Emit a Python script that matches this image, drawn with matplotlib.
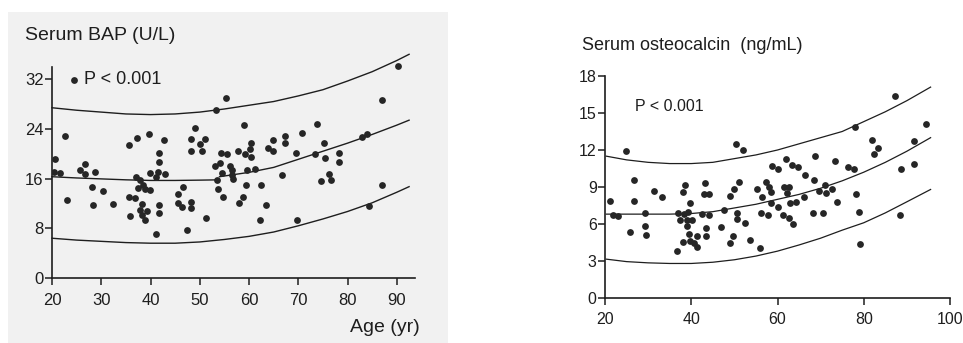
import matplotlib
matplotlib.use("Agg")
import matplotlib.pyplot as plt
from matplotlib.patches import Rectangle

plt.rcParams['font.family'] = ['Liberation Sans', 'DejaVu Sans']

# left panel: serum BAP vs age
bap_age = [24.4, 20.7, 20.5, 21.7, 22.6, 23.0, 25.6, 26.6, 26.8, 28.7, 28.2, 28.3,
           30.4, 32.3, 35.6, 37.3, 39.7, 42.8, 41.7, 41.7, 39.9, 41.5, 42.9, 41.1,
           37.0, 37.8, 38.4, 37.5, 38.8, 39.9, 35.6, 36.8, 38.2, 37.8, 39.2, 38.2,
           35.8, 38.8, 41.7, 41.7, 41.1, 55.4, 53.3, 49.1, 59.0, 48.3, 51.0, 50.0,
           48.2, 50.4, 54.4, 55.6, 57.7, 60.4, 60.2, 59.2, 60.4, 64.9, 63.8, 64.9,
           67.3, 67.3, 53.1, 54.1, 56.1, 56.5, 54.6, 56.6, 56.8, 59.5, 61.2, 66.7,
           53.6, 53.7, 54.8, 59.4, 62.4, 46.6, 45.6, 45.6, 46.3, 48.2, 48.2, 58.8,
           57.9, 63.4, 51.2, 62.2, 47.5, 90.2, 87.1, 73.9, 70.7, 82.9, 84.0, 75.3,
           69.5, 73.4, 75.4, 78.3, 78.3, 76.3, 74.7, 76.6, 86.9, 84.4, 69.8]
bap_val = [31.9, 19.2, 17.0, 16.9, 22.9, 12.6, 17.4, 18.4, 16.7, 17.1, 14.7, 11.8,
           14.0, 11.9, 21.4, 22.5, 23.2, 22.2, 20.1, 18.7, 16.9, 17.0, 16.7, 16.2,
           16.2, 15.7, 14.9, 14.5, 14.3, 14.2, 13.1, 12.9, 11.9, 11.0, 10.8, 10.1,
           9.9, 9.3, 11.7, 10.4, 7.1, 28.9, 27.0, 24.2, 24.7, 22.4, 22.3, 21.5,
           20.4, 20.4, 20.1, 19.9, 20.5, 21.7, 20.8, 19.9, 19.5, 22.2, 21.0, 20.5,
           22.9, 21.8, 18.1, 18.5, 18.1, 17.4, 16.9, 16.6, 15.9, 17.4, 17.5, 16.6,
           15.7, 14.3, 13.0, 14.9, 15.0, 14.6, 13.5, 12.0, 11.4, 12.2, 11.3, 13.0,
           12.0, 11.7, 9.6, 9.3, 7.8, 34.1, 28.6, 24.8, 23.3, 22.7, 23.2, 21.7,
           20.1, 20.0, 19.3, 20.1, 18.6, 16.7, 15.6, 15.7, 15.0, 11.6, 9.4]

bap_curve_age = [20, 25, 30, 35, 40, 45, 50, 55, 60, 65, 70, 75, 80, 85, 90, 92.5]
bap_upper = [27.4, 27.0, 26.7, 26.4, 26.3, 26.4, 26.7, 27.2, 27.8, 28.4, 29.3,
             30.3, 31.7, 33.2, 35.0, 36.0]
bap_lower = [6.4, 6.1, 5.9, 5.7, 5.6, 5.6, 5.8, 6.2, 6.7, 7.4, 8.4, 9.5, 10.7,
             12.1, 13.8, 14.7]
# the middle line is drawn in two pieces, broken near 54 yr
bap_mid1_age = [20, 25, 30, 35, 40, 45, 50, 54]
bap_mid1 = [16.3, 16.1, 15.95, 15.8, 15.7, 15.7, 15.75, 15.8]
bap_mid2_age = [54, 60, 65, 70, 75, 80, 85, 90, 92.5]
bap_mid2 = [16.3, 17.0, 17.8, 19.1, 20.4, 21.7, 23.1, 24.6, 25.4]

# right panel: serum osteocalcin vs age
ocn_age = [24.9, 21.2, 21.9, 23.1, 26.8, 26.8, 25.8, 29.3, 29.3, 29.4, 31.3, 33.2,
           36.8, 38.1, 38.5, 38.0, 39.7, 36.9, 38.3, 39.2, 37.3, 39.0, 40.2, 39.0,
           39.4, 39.8, 40.6, 41.4, 41.4, 43.3, 44.1, 42.9, 42.5, 44.1, 43.5, 43.5,
           46.9, 47.6, 48.9, 49.6, 49.1, 49.9, 51.1, 50.3, 52.0, 50.5, 50.5, 52.5,
           53.6, 55.9, 55.3, 56.5, 57.4, 58.0, 58.4, 56.1, 57.7, 58.4, 58.8, 60.0,
           60.2, 61.2, 61.9, 63.3, 64.7, 61.6, 62.7, 62.1, 62.9, 64.3, 62.7, 63.7,
           66.2, 66.4, 68.5, 68.8, 68.2, 70.5, 69.6, 71.1, 71.3, 72.7, 73.4, 73.9,
           76.3, 77.7, 77.9, 78.3, 78.9, 79.1, 81.9, 83.2, 82.4, 87.3, 88.7, 88.3,
           91.6, 91.6, 94.4]
ocn_val = [11.9, 7.9, 6.75, 6.65, 9.6, 7.9, 5.35, 6.9, 5.8, 5.1, 8.7, 8.2,
           3.8, 4.55, 9.2, 8.6, 7.7, 6.9, 6.8, 7.0, 6.3, 6.3, 6.3, 5.8,
           5.2, 4.6, 4.5, 5.05, 4.1, 9.3, 8.4, 8.4, 6.8, 6.7, 5.7, 5.0,
           5.75, 7.15, 4.5, 5.0, 8.3, 8.8, 9.4, 12.5, 12.0, 6.9, 6.4, 6.1,
           4.7, 4.05, 8.8, 8.2, 9.4, 9.0, 8.6, 6.9, 6.7, 7.7, 10.7, 10.5,
           7.4, 6.7, 11.3, 10.8, 10.6, 9.0, 9.0, 8.55, 7.7, 7.75, 6.5, 6.0,
           8.2, 10.0, 9.6, 11.5, 6.9, 6.9, 8.7, 9.2, 8.55, 8.8, 11.1, 7.8,
           10.6, 10.5, 13.9, 8.4, 7.0, 4.4, 12.8, 12.2, 11.7, 16.4, 10.5, 6.7,
           12.7, 10.85, 14.1]

ocn_curve_age = [20.3, 25, 30, 35, 40, 45, 50, 55, 60, 65, 70, 75, 80, 85, 90, 95.5]
ocn_upper = [11.5, 11.2, 11.0, 10.9, 10.9, 11.0, 11.3, 11.6, 12.0, 12.5, 13.0,
             13.5, 14.3, 15.1, 16.0, 17.1]
ocn_mid = [6.8, 6.8, 6.8, 6.8, 6.85, 7.0, 7.3, 7.6, 8.0, 8.4, 8.9, 9.5, 10.2,
           11.0, 11.9, 13.0]
ocn_lower = [3.15, 2.95, 2.85, 2.8, 2.8, 2.9, 3.1, 3.4, 3.8, 4.3, 4.85, 5.5,
             6.1, 6.9, 7.8, 8.8]

W, H = 963, 343
fig = plt.figure(figsize=(W / 100, H / 100), dpi=100)
fig.patch.set_facecolor('white')
# scanned page tint behind the left figure
fig.patches.append(Rectangle((8 / W, 0), 440 / W, 1 - 12 / H,
                             transform=fig.transFigure, facecolor='#f1f1f1',
                             edgecolor='none', zorder=-5))

ink = '#1e1e1e'
dot = dict(s=24, color='#262626', linewidths=0, zorder=3)


def px_axes(x0, x1, y_bottom, y_top):
    return fig.add_axes([x0 / W, 1 - y_bottom / H, (x1 - x0) / W,
                         (y_bottom - y_top) / H])


def style(ax, size):
    ax.patch.set_alpha(0)
    for s in ['top', 'right']:
        ax.spines[s].set_visible(False)
    for s in ['left', 'bottom']:
        ax.spines[s].set_linewidth(1.2)
        ax.spines[s].set_color(ink)
    ax.tick_params(direction='out', length=5, width=1.1, colors=ink,
                   labelsize=size)


# ---- left
ax1 = px_axes(52, 415, 278, 51.2)
ax1.scatter(bap_age, bap_val, **dot)
for a, v in [(bap_curve_age, bap_upper), (bap_curve_age, bap_lower),
             (bap_mid1_age, bap_mid1), (bap_mid2_age, bap_mid2)]:
    ax1.plot(a, v, color=ink, lw=1.0, clip_on=False)
ax1.set_xlim(20, 93.7)
ax1.set_ylim(0, 36.5)
style(ax1, 12)
ax1.spines['left'].set_bounds(0, 34)
ax1.set_xticks(range(20, 100, 10))
ax1.set_yticks(range(0, 33, 8))
ax1.tick_params(axis='x', pad=6)
ax1.tick_params(axis='y', pad=1)
ax1.text(26.5, 32, 'P < 0.001', fontsize=13, color=ink, va='center')
fig.text(25 / W, 1 - 35 / H, 'Serum BAP (U/L)', fontsize=14, color=ink,
         va='center', ha='left')
fig.text(420 / W, 1 - 328 / H, 'Age (yr)', fontsize=14, color=ink,
         va='center', ha='right')

# ---- right
ax2 = px_axes(605, 950, 298, 76)
ax2.scatter(ocn_age, ocn_val, **dot)
for v in [ocn_upper, ocn_mid, ocn_lower]:
    ax2.plot(ocn_curve_age, v, color=ink, lw=0.9)
ax2.set_xlim(20, 100)
ax2.set_ylim(0, 18)
style(ax2, 11.5)
ax2.set_xticks(range(20, 101, 20))
ax2.set_yticks(range(0, 19, 3))
ax2.tick_params(axis='x', pad=5)
ax2.tick_params(axis='y', pad=1)
ax2.text(27, 15.5, 'P < 0.001', fontsize=11.5, color=ink, va='center')
fig.text(582 / W, 1 - 46 / H, 'Serum osteocalcin  (ng/mL)', fontsize=13,
         color=ink, va='center', ha='left')

fig.savefig('out.png', dpi=100)
